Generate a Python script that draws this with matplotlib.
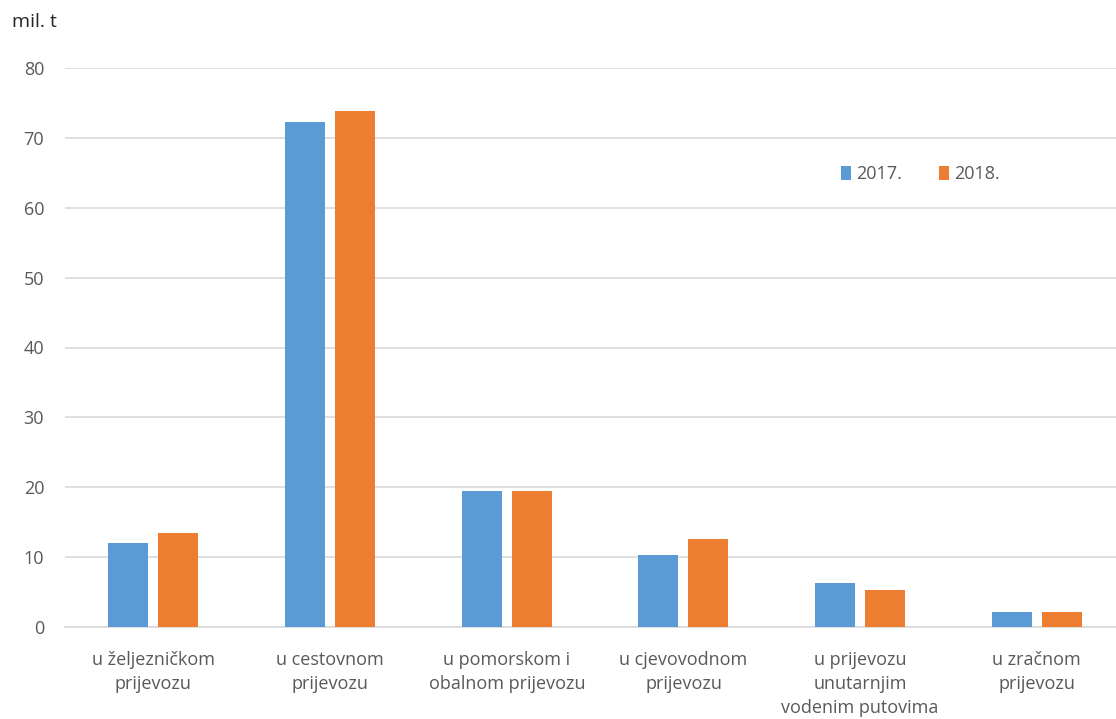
import matplotlib
matplotlib.use("Agg")
import matplotlib.pyplot as plt
import numpy as np

# data
categories = [
    "u željezničkom\nprijevozu",
    "u cestovnom\nprijevozu",
    "u pomorskom i\nobalnom prijevozu",
    "u cjevovodnom\nprijevozu",
    "u prijevozu\nunutarnjim\nvodenim putovima",
    "u zračnom\nprijevozu",
]
values_2017 = [12.0, 72.3, 19.5, 10.3, 6.3, 2.1]
values_2018 = [13.4, 73.9, 19.5, 12.6, 5.3, 2.1]
series_labels = ["2017.", "2018."]
yticks = [0, 10, 20, 30, 40, 50, 60, 70, 80]

plt.rcParams['font.family'] = ['Open Sans', 'DejaVu Sans']

fig = plt.figure(figsize=(11.16, 7.19), dpi=100)
ax = fig.add_axes([65 / 1116, 1 - 627 / 719, 1 - 65 / 1116, (627 - 68) / 719])

x = np.arange(len(categories))
w = 0.226
off = 0.1415
ax.bar(x - off, values_2017, w, color="#5B9BD5", label=series_labels[0], zorder=3)
ax.bar(x + off, values_2018, w, color="#ED7D31", label=series_labels[1], zorder=3)

# plot area is cut a bit on the right, like the source
ax.set_xlim(-0.5, -0.5 + 1051 / 176.7)
ax.set_ylim(0, 80)
ax.set_yticks(yticks)
ax.yaxis.grid(True, color="#D9D9D9", linewidth=1.2, zorder=0)
ax.set_axisbelow(True)
for s in ["top", "right", "left"]:
    ax.spines[s].set_visible(False)
ax.spines["bottom"].set_color("#D9D9D9")
ax.spines["bottom"].set_linewidth(1.2)
ax.tick_params(axis="both", length=0, colors="#595959", labelsize=13)
ax.tick_params(axis="y", pad=15)
ax.tick_params(axis="x", pad=17)
ax.set_xticks(x)
ax.set_xticklabels(categories, linespacing=1.45)

ax.legend(loc="upper left", bbox_to_anchor=(760 / 1051, 0.855), ncol=2,
          frameon=False, fontsize=13, handlelength=0.55, handleheight=0.75,
          handletextpad=0.3, columnspacing=2.0, labelcolor="#595959")

fig.text(12 / 1116, 1 - 22 / 719, "mil. t", fontsize=14, color="#262626", va="center")

fig.savefig("out.png", dpi=100)
